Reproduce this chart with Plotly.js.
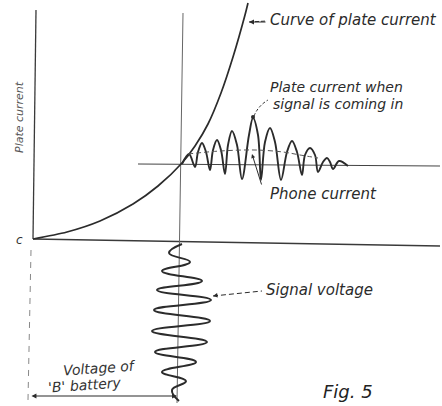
<!DOCTYPE html>
<html>
<head>
<meta charset="utf-8">
<script src="https://cdn.plot.ly/plotly-3.0.1.min.js"></script>
<style>html,body{margin:0;padding:0;background:#fff;}#chart{width:442px;height:406px;}</style>
</head>
<body>
<div id="chart"></div>
<script>
// Coordinates: x = grid voltage (relative, origin at "c"), y = plate current (origin at "c")
// Characteristic curve of plate current
const plateCurveX = [0, 34, 67, 100, 125, 149, 162, 175, 188, 200, 212, 215];
const plateCurveY = [0, 7, 18, 35, 53, 76, 93, 115, 146, 182, 224, 236];

// Plate current when signal is coming in (read along each arch: sides, tops and troughs)
const signalInX = [149, 156, 162, 165, 169, 173, 177, 180, 184, 188, 192, 195, 199, 204, 209, 216, 220, 225, 228, 232, 237, 242, 248, 254, 259, 264, 269, 272, 277, 282, 285, 290, 294, 297, 300, 306, 315];
const signalInY = [75, 85, 72, 87, 96, 87, 69, 89, 99, 89, 65, 94, 108, 94, 60, 104, 121, 104, 59, 97, 111, 97, 59, 87, 98, 87, 64, 84, 91, 84, 67, 77, 81, 77, 70, 78, 73];

// Phone current (mean of the plate current)
const phoneX = [155, 187, 222, 250, 267, 285];
const phoneY = [85, 88, 89, 87, 84, 81];

// Signal voltage (grid voltage oscillation, drawn downward in time)
const signalVX = [149, 136, 157, 129, 169, 124, 178, 121, 177, 119, 174, 122, 163, 129, 153, 139, 146];
const signalVY = [-5, -14, -23, -32, -42, -51, -61, -71, -82, -92, -103, -113, -123, -133, -142, -151, -162];

// Axes / reference lines
const yAxisX = [0, 3], yAxisY = [0, 229];
const xAxisX = [0, 188, 407], xAxisY = [0, -3, -7];
const biasLineX = [150, 144], biasLineY = [226, -164];
const opLineX = [105, 407], opLineY = [75, 73];
const cutoffX = [-2, -5], cutoffY = [-11, -161];

const ink = '#2b2b2b';
const traces = [
  {x: yAxisX, y: yAxisY, mode: 'lines', line: {color: '#3a3a3a', width: 1.3}},
  {x: xAxisX, y: xAxisY, mode: 'lines', line: {color: '#3a3a3a', width: 1.3}},
  {x: biasLineX, y: biasLineY, mode: 'lines', line: {color: '#666', width: 1}},
  {x: opLineX, y: opLineY, mode: 'lines', line: {color: '#444', width: 1.1}},
  {x: cutoffX, y: cutoffY, mode: 'lines', line: {color: '#888', width: 1, dash: '6px,6px'}},
  {x: plateCurveX, y: plateCurveY, mode: 'lines', line: {color: ink, width: 1.7, shape: 'spline', smoothing: 0.8}},
  {x: signalInX, y: signalInY, mode: 'lines', line: {color: ink, width: 1.9, shape: 'spline', smoothing: 1}},
  {x: phoneX, y: phoneY, mode: 'lines', line: {color: '#555', width: 1, dash: '5px,3px', shape: 'spline'}},
  {x: signalVX, y: signalVY, mode: 'lines', line: {color: ink, width: 2, shape: 'spline', smoothing: 1.3}}
];

const ff = 'DejaVu Sans, sans-serif';
const tf = {family: ff, size: 15, color: '#2b2b2b'};
const tf2 = {family: ff, size: 14, color: '#2b2b2b'};
const annotations = [
  {x: 235, y: 219, text: '<i>Curve of plate current</i>', showarrow: false, xanchor: 'left', yanchor: 'middle', font: tf},
  {x: 216, y: 217, ax: 234, ay: 217, axref: 'x', ayref: 'y', text: '', showarrow: true, arrowhead: 2, arrowsize: 1, arrowwidth: 1, arrowcolor: ink},
  {x: 235, y: 152, text: '<i>Plate current when</i>', showarrow: false, xanchor: 'left', yanchor: 'middle', font: tf2},
  {x: 238, y: 135, text: '<i>signal is coming in</i>', showarrow: false, xanchor: 'left', yanchor: 'middle', font: tf2},
  {x: 235, y: 45, text: '<i>Phone current</i>', showarrow: false, xanchor: 'left', yanchor: 'middle', font: tf},
  {x: 219, y: 85, ax: 229, ay: 53, axref: 'x', ayref: 'y', text: '', showarrow: true, arrowhead: 2, arrowsize: 0.8, arrowwidth: 1, arrowcolor: ink},
  {x: 231, y: -51, text: '<i>Signal voltage</i>', showarrow: false, xanchor: 'left', yanchor: 'middle', font: tf},
  {x: 180, y: -57, ax: 186, ay: -56, axref: 'x', ayref: 'y', text: '', showarrow: true, arrowhead: 2, arrowsize: 0.9, arrowwidth: 1, arrowcolor: ink},
  {x: 288, y: -152, text: '<i>Fig. 5</i>', showarrow: false, xanchor: 'left', yanchor: 'middle', font: {family: ff, size: 18, color: '#222'}},
  {x: 27, y: -129, text: '<i>Voltage of</i>', showarrow: false, xanchor: 'left', yanchor: 'middle', textangle: -4, font: {family: ff, size: 14, color: '#333'}},
  {x: 12, y: -146, text: "<i>'B' battery</i>", showarrow: false, xanchor: 'left', yanchor: 'middle', textangle: -4, font: {family: ff, size: 14, color: '#333'}},
  {x: -14, y: -1, text: '<i>c</i>', showarrow: false, xanchor: 'center', yanchor: 'middle', font: {family: ff, size: 12, color: '#333'}},
  {x: -14, y: 122, text: '<i>Plate current</i>', showarrow: false, textangle: -90, xanchor: 'center', yanchor: 'middle', font: {family: ff, size: 11, color: '#555'}},
  {x: 144, y: -157, ax: -3, ay: -157, axref: 'x', ayref: 'y', text: '', showarrow: true, arrowhead: 2, arrowside: 'end+start', arrowsize: 0.9, arrowwidth: 1.1, arrowcolor: ink}
];

const shapes = [
  {type: 'line', xref: 'x', yref: 'y', x0: 216, y0: 217, x1: 234, y1: 218, line: {color: ink, width: 1, dash: '4px,2px'}},
  {type: 'line', xref: 'x', yref: 'y', x0: 180, y0: -57, x1: 229, y1: -52, line: {color: ink, width: 1, dash: '5px,3px'}},
  {type: 'path', xref: 'x', yref: 'y', path: 'M 221 123 Q 225 133 235 139', line: {color: ink, width: 1, dash: '3px,2px'}},
  {type: 'circle', xref: 'x', yref: 'y', x0: 218, y0: 120, x1: 222, y1: 124, fillcolor: ink, line: {width: 0}}
];

const layout = {
  width: 442, height: 406,
  margin: {l: 0, r: 0, t: 0, b: 0},
  paper_bgcolor: '#fff', plot_bgcolor: '#fff',
  showlegend: false,
  xaxis: {range: [-33, 409], visible: false, fixedrange: true},
  yaxis: {range: [-167, 239], visible: false, fixedrange: true},
  annotations: annotations,
  shapes: shapes
};

Plotly.newPlot('chart', traces, layout, {staticPlot: true, displayModeBar: false});
</script>
</body>
</html>
